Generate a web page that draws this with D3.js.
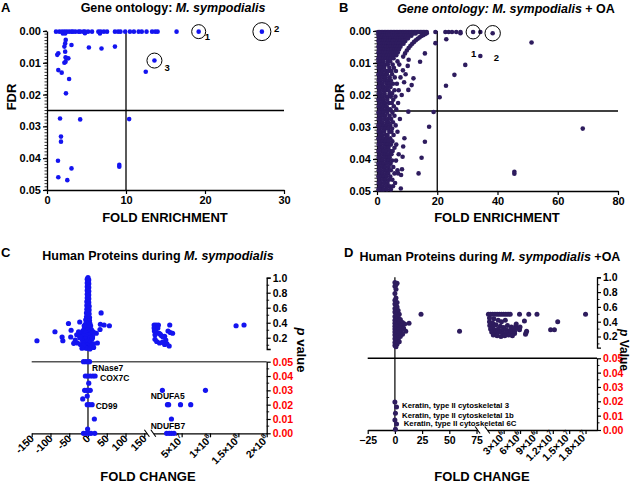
<!DOCTYPE html>
<html><head><meta charset="utf-8">
<script src="https://cdn.jsdelivr.net/npm/d3@7"></script>
<style>
body{margin:0;background:#fff;}
svg text{font-family:"Liberation Sans",Arial,sans-serif;font-weight:bold;}
</style></head><body>
<svg id="c" width="634" height="483"></svg>
<script>
// ---------------- DATA ----------------
// Panel A : [fold enrichment, FDR]
const aPoints = [
 [1.14,0.0002],[1.56,0.0002],[1.9,0.0002],[2.2,0.0002],[2.5,0.0002],[2.8,0.0002],[3.1,0.0002],[3.3,0.0002],[3.6,0.0002],[4.0,0.0002],
 [4.2,0.0002],[4.6,0.0002],[4.8,0.0002],[5.2,0.0002],[5.7,0.0002],[6.5,0.0002],[6.8,0.0002],[7.2,0.0002],[7.6,0.0002],[8.6,0.0002],
 [9.0,0.0002],[9.3,0.0002],[9.9,0.0002],[10.5,0.0002],[11.0,0.0002],[11.6,0.0002],[12.0,0.0002],[12.6,0.0002],[13.3,0.0002],[13.7,0.0002],
 [14.0,0.0002],[16.4,0.0002],[19.2,0.0002],[27.2,0.0002],
 [2.0,0.0008],[2.3,0.0008],[4.8,0.0007],[6.7,0.0008],
 [2.37,0.0028],[2.3,0.0039],[2.2,0.0049],[3.1,0.0044],[1.43,0.007],[1.3,0.0075],[2.3,0.0065],[2.35,0.0083],[2.45,0.0086],
 [2.2,0.010],[2.35,0.0097],[2.7,0.0086],[1.43,0.0123],[1.86,0.0131],[2.8,0.0151],[2.4,0.0196],[5.3,0.0052],[6.9,0.0055],
 [8.6,0.0049],[12.5,0.0128],[13.6,0.0093],
 [1.65,0.0275],[4.2,0.0278],[10.4,0.0277],[1.77,0.0332],[1.77,0.0348],[1.39,0.0408],[9.15,0.0421],[9.15,0.0427],
 [3.1,0.0432],[1.43,0.046],[2.57,0.0469]
];
const aCircled = [[19.2,0.0002,7,"1",6,5],[27.2,0.0002,9,"2",12,-3],[13.6,0.0093,7.5,"3",10,7]];

// Panel B : [fold enrichment, FDR]
const bRow0 = [0.4,0.9,1.4,1.9,2.4,2.9,3.4,3.9,4.4,4.9,5.4,5.9,6.4,6.9,7.4,7.9,8.4,8.9,9.4,9.9,10.4,10.9,11.4,11.9,12.4,12.9,13.4,13.9,14.4,14.9,15.4,15.9,16.5,19.4,22.7,23.8,24.9,26.3,27.7,34.3];
const bWedgeRows = [
 [0.0008,[0.6,1.3,2.1,2.8,3.5,4.3,5.0,5.8,6.5,7.3,8.0,8.8,9.5,10.3,11.1,12.0,12.8]],
 [0.0015,[0.5,1.2,2.0,2.7,3.5,4.2,5.1,5.8,6.6,7.4,8.1,9.0,9.8,10.6,11.4]],
 [0.0023,[0.7,1.5,2.3,3.0,3.9,4.6,5.4,6.2,7.0,7.8,8.6,9.5,10.3]],
 [0.0031,[0.5,1.3,2.1,2.9,3.7,4.5,5.3,6.1,6.9,7.7,8.6,9.4]],
 [0.0040,[0.8,1.6,2.4,3.2,4.0,4.8,5.6,6.4,7.2,8.1,8.8]],
 [0.0049,[0.5,1.3,2.2,3.0,3.8,4.6,5.5,6.2,7.0,7.8]],
 [0.0058,[0.7,1.5,2.4,3.2,4.0,4.9,5.7,6.5,7.3]],
 [0.0067,[0.5,1.3,2.1,2.9,3.8,4.6,5.4,6.1,6.9]],
 [0.0076,[0.8,1.6,2.4,3.3,4.1,4.9,5.6,6.4]],
 [0.0085,[0.5,1.3,2.2,3.0,3.8,4.7,5.5]]
];
const bBlockRows = [
 [0.0095,[0.5,1.3,2.1,3.5,4.4,6.8]],[0.0105,[0.8,1.9,2.8,3.6,5.2,7.4]],[0.0115,[0.6,1.4,2.4,4.1,5.6]],
 [0.0125,[0.9,1.8,3.0,3.9,4.8,6.3]],[0.0135,[0.5,1.5,2.4,3.3,5.0]],[0.0145,[0.8,2.0,2.9,4.2,5.9,7.8]],
 [0.0155,[0.6,1.3,2.5,3.6,4.6]],[0.0165,[0.9,1.8,3.1,4.0,5.3,6.6]],[0.0175,[0.5,1.5,2.3,3.4,4.5]],
 [0.0185,[0.8,2.0,2.8,3.8,5.8,7.2]],[0.0195,[0.6,1.3,2.5,4.2,5.0]],[0.0205,[0.9,1.8,3.0,3.7,4.6,6.1]],
 [0.0215,[0.5,1.5,2.2,3.4,5.4]],[0.0225,[0.8,1.9,2.7,4.0,4.9,7.0]],[0.0235,[0.6,1.3,2.4,3.2,5.6]],
 [0.0245,[0.9,1.7,3.0,3.8,4.5,6.4]],[0.0255,[0.5,1.4,2.2,3.4,5.1]],[0.0265,[0.8,1.9,2.8,4.2,5.8]],
 [0.0275,[0.6,1.3,2.5,3.6,4.7,7.6]],[0.0285,[0.9,1.8,3.1,3.9,5.3]],[0.0295,[0.5,1.5,2.3,3.3,4.4,6.2]],
 [0.0305,[0.8,2.0,2.8,3.7,5.0]],[0.0315,[0.6,1.3,2.4,4.1,4.8,6.8]],[0.0325,[0.9,1.7,3.0,3.5,5.5]],
 [0.0335,[0.5,1.4,2.2,3.3,4.4]],[0.0345,[0.8,1.9,2.7,3.9,5.1]],[0.0355,[0.6,1.3,2.5,3.4,4.6,6.4]],
 [0.0365,[0.9,1.8,3.0,3.8,5.8]],[0.0375,[0.5,1.5,2.3,3.2,4.3,5.2]],[0.0385,[0.8,2.0,2.8,3.7,4.8,7.2]],
 [0.0395,[0.6,1.3,2.4,3.5,4.2]],[0.0405,[0.9,1.7,3.0,3.8,5.0,6.3]],[0.0415,[0.5,1.4,2.2,3.3,4.5]],
 [0.0425,[0.8,1.9,2.7,3.9,5.4]],[0.0435,[0.6,1.3,2.5,3.4,4.6,6.8]],[0.0445,[0.9,1.8,3.0,3.7,5.8,7.0]],
 [0.0455,[0.5,1.5,2.3,3.2,4.4]],[0.0465,[0.8,2.0,2.8,4.0,5.1]],[0.0475,[0.6,1.3,2.4,3.5,6.0]],
 [0.0485,[0.9,1.7,3.0,4.2,5.3]],[0.0495,[0.5,1.4,2.2,3.3,4.6]]
];
const bArc = [[8.7,0.0080],[9.3,0.0070],[9.9,0.0061],[10.5,0.0053],[11.1,0.0046],[11.7,0.0040],[12.3,0.0034],[12.9,0.0029],
 [13.5,0.0024],[14.1,0.0020],[14.7,0.0016],[15.3,0.0013],[15.9,0.0010],[16.5,0.0007]];
const bSparse = [[15.9,0.007],[14.3,0.0096],[12.1,0.0148],[11.5,0.0169],[10.4,0.0184],[10.5,0.009],[10.2,0.0109],[8.6,0.0123],
 [9.5,0.0135],[9.0,0.016],[8.2,0.020],[10.4,0.0252],[9.1,0.0335],[8.7,0.0361],[8.5,0.0393],[8.3,0.0432],[8.0,0.045],[7.9,0.0492],
 [19.4,0.0038],[23.0,0.0026],[27.7,0.0007],[34.3,0.0078],[29.3,0.0106],[25.7,0.0137],[22.9,0.0171],[20.8,0.0207],[18.8,0.0253],
 [17.3,0.0299],[15.9,0.0346],[14.8,0.0396],[13.8,0.0445],[51.3,0.0036],[68.3,0.0305],[45.6,0.044],[45.6,0.0446],
 [31.9,0.0003],[38.4,0.0007]];
const bCircled = [[31.9,0.0003,7,"1",-2,22],[38.4,0.0007,7.7,"2",1,25]];

// Panel C : [fold change, p value]
const cUpperLeft = [
 [0,1.0],[-2,0.98],[2,0.97],[0,0.95],[-2,0.93],[2,0.92],[0,0.9],[-2,0.88],[2,0.87],[0,0.85],[-2,0.83],[2,0.82],[0,0.8],
 [-2,0.78],[2,0.77],[0,0.75],[-2,0.73],[2,0.72],[0,0.7],[-3,0.68],[2,0.67],[0,0.65],[-3,0.63],[3,0.62],[0,0.6],[-3,0.58],
 [3,0.57],[0,0.55],[-4,0.53],[3,0.52],[0,0.5],[-4,0.48],[4,0.47],[-1,0.45],[-6,0.44],[4,0.43],[1,0.42],[-5,0.4],[5,0.39],
 [-1,0.38],[-8,0.37],[7,0.36],[0,0.35],[-5,0.34],[4,0.33],[-10,0.32],[9,0.31],[-2,0.3],[-14,0.29],[3,0.28],[-7,0.27],[8,0.26],
 [-18,0.25],[0,0.24],[-11,0.23],[12,0.22],[-4,0.21],[5,0.2],[-22,0.2],[-8,0.19],[10,0.18],[-15,0.17],[1,0.16],[-5,0.15],
 [6,0.14],[-12,0.13],[15,0.12],[-20,0.11],[-2,0.1],[4,0.09],[-9,0.08],[9,0.07],[0,0.06],[-5,0.06],[5,0.05],
 [-136,0.16],[-88,0.28],[-69,0.21],[-67,0.16],[-52,0.39],[-45,0.30],[-46,0.21],[-22,0.41],[-34,0.17],[-20,0.21],[-12,0.10],
 [-16,0.06],[-25,0.28],[-30,0.24],[-38,0.125],[-28,0.13],[-10,0.36],
 [35,0.53],[33,0.38],[43,0.37],[57,0.36],[32,0.31],[22,0.26],[25,0.13],[14,0.28],[12,0.20],[10,0.10],[15,0.07]
];
const cUpperRight = [[1.5e6,0.37],[5e6,0.37],[9e6,0.37],[1.5e6,0.33],[8e6,0.33],[2e6,0.29],[5e6,0.28],[1e7,0.26],[3e6,0.24],
 [1.4e7,0.23],[2e7,0.22],[2.9e7,0.37],[2.6e7,0.29],[3.0e7,0.27],[3.4e7,0.26],[1.2e7,0.25],[1.7e7,0.21],[2.2e7,0.17],[3e6,0.18],
 [6e6,0.15],[1.1e7,0.13],[1.6e7,0.14],[2.0e7,0.11],[2.4e7,0.12],[2.8e7,0.09],[1.46e8,0.36],[1.6e8,0.37]];
const cLowerLeft = [[-12,0.05],[-6,0.05],[0,0.05],[4,0.05],[-7,0.04],[-1,0.04],[6,0.04],[13,0.04],[19,0.04],[2,0.035],
 [-9,0.03],[-4,0.03],[1,0.03],[6,0.03],[-2,0.026],[-14,0.024],[-2,0.02],[4,0.02],[11,0.02],[17,0.01],[-1,0.003],
 [-12,0],[-5,0],[2,0],[8,0],[18,0]];
const cLowerRight = [[1.6e7,0.03],[9.2e7,0.03],[2.5e7,0.02],[2.7e7,0.02],[4.8e7,0.02],[6.6e7,0.02],[3.2e7,0.01],
 [2.35e7,0],[2.8e7,0],[3.2e7,0],[3.65e7,0]];
const cLabels = [["RNase7",92,370.7],["COX7C",100,380.7],["CD99",95.7,409],["NDUFA5",150.7,399.3],["NDUFB7",150.7,429]];
const cLeftTicks = [-150,-100,-50,0,50,100,150];
const cRightTicks = [5e7,1e8,1.5e8,2e8];
const cRightTickLabels = [["5×10","7"],["1×10","8"],["1.5×10","8"],["2×10","8"]];

// Panel D : [fold change, p value]
const dUpperLeft = [[0,0.93],[2,0.92],[1,0.9],[0,0.88],[1,0.84],[0,0.78],[1,0.72],[0,0.69],[2,0.66],[0,0.64],[1,0.62],[2,0.6],
 [0,0.58],[1,0.56],[3,0.55],[0,0.53],[2,0.51],[4,0.5],[1,0.49],[0,0.47],[3,0.46],[1,0.44],[5,0.43],[0,0.42],[2,0.41],[4,0.4],
 [7,0.39],[0,0.38],[3,0.37],[9,0.37],[13,0.38],[1,0.36],[6,0.35],[0,0.34],[2,0.33],[5,0.32],[8,0.31],[0,0.3],[3,0.29],[6,0.28],
 [1,0.27],[10,0.27],[0,0.26],[4,0.25],[2,0.24],[7,0.23],[0,0.22],[3,0.21],[5,0.2],[1,0.19],[0,0.17],[3,0.16],[1,0.14],[4,0.13],
 [0,0.12],[2,0.1],[0,0.08],[1,0.06],[24,0.5],[59.4,0.27]];
const dUpperRight = [[2e5,0.5],[6e5,0.5],[1e6,0.5],[1.4e6,0.5],[1.8e6,0.5],[2.2e6,0.5],[2.6e6,0.5],[3e6,0.5],[3.4e6,0.5],
 [3.8e6,0.5],[4.2e6,0.5],[5.9e6,0.5],[7.6e6,0.5],[9.1e6,0.5],[1.8e7,0.5],
 [4e5,0.45],[1.2e6,0.44],[4e5,0.4],[1e6,0.38],[2e6,0.42],[3.3e6,0.42],[2.6e6,0.4],[4.5e5,0.35],[1e6,0.33],[1.6e6,0.36],
 [2.4e6,0.34],[3e6,0.32],[3.7e6,0.35],[4.4e6,0.33],[5.2e6,0.34],[6e5,0.3],[1.3e6,0.29],[2e6,0.3],[2.7e6,0.28],[3.4e6,0.29],
 [4.1e6,0.28],[4.8e6,0.3],[5.6e6,0.31],[8e5,0.26],[1.5e6,0.25],[2.2e6,0.26],[2.9e6,0.24],[3.6e6,0.25],[4.3e6,0.26],[5e6,0.24],
 [1.1e6,0.22],[1.8e6,0.21],[2.5e6,0.2],[3.2e6,0.21],[3.9e6,0.22],[4.6e6,0.21],[6.8e6,0.41],[7.2e6,0.27],[7.1e6,0.25],[7e6,0.23],
 [1.16e7,0.29],[1.23e7,0.29],[1.29e7,0.4],[5.3e6,0.37],[6e6,0.33],[5.9e6,0.29],[5e6,0.27]];
const dLowerLeft = [[0,0.0195],[1.5,0.016],[0.5,0.0116],[0,0.007],[1.5,0.0042],[0.5,0.0005]];
const dLabels = [["Keratin, type II cytoskeletal 3",402,408.3],["Keratin, type II cytoskeletal 1b",402,418.3],["Keratin, type II cytoskeletal 6C",403.7,426]];
const dLeftTicks = [-25,0,25,50,75];
const dRightTicks = [3e6,6e6,9e6,1.2e7,1.5e7,1.8e7];
const dRightTickLabels = [["3×10","6"],["6×10","6"],["9×10","6"],["1.2×10","7"],["1.5×10","7"],["1.8×10","7"]];

const fdrTicks = [0,0.01,0.02,0.03,0.04,0.05];
const pUpperTicks = [0.2,0.4,0.6,0.8,1.0];
const pLowerTicks = [0,0.01,0.02,0.03,0.04,0.05];

// ---------------- DRAW ----------------
const BLUE = "#1414f0", PURP = "#2e1c5e";
const svg = d3.select("#c");

function style(g, fs){
  g.selectAll("path.domain").attr("stroke","#000").attr("stroke-width",1.3);
  g.selectAll(".tick line").attr("stroke","#000").attr("stroke-width",1.2);
  g.selectAll("text").attr("font-size",fs).attr("font-weight","bold").attr("fill","#000")
    .attr("font-family","'Liberation Sans',Arial,sans-serif");
}
function dots(pts, xs, ys, r, col){
  svg.append("g").selectAll("circle").data(pts).join("circle")
    .attr("cx",d=>xs(d[0])).attr("cy",d=>ys(d[1])).attr("r",r).attr("fill",col);
}
function line(x1,y1,x2,y2,col,w){
  svg.append("line").attr("x1",x1).attr("y1",y1).attr("x2",x2).attr("y2",y2).attr("stroke",col||"#000").attr("stroke-width",w||1.3);
}
function text(t,x,y,fs,opts){
  const e = svg.append("text").attr("x",x).attr("y",y).attr("font-size",fs).text(t);
  if(opts&&opts.anchor) e.attr("text-anchor",opts.anchor);
  return e;
}
function title(parts,x,y){
  const t = svg.append("text").attr("x",x).attr("y",y).attr("font-size",12.5).attr("text-anchor","middle");
  parts.forEach(p=>t.append("tspan").attr("font-style",p[1]?"italic":"normal").text(p[0]));
}

// ---- GO panels
function goPanel(xDom, xRange, yRange, pts, col, xTicks, vLineX, circled){
  const x = d3.scaleLinear().domain(xDom).range(xRange);
  const y = d3.scaleLinear().domain([0,0.05]).range(yRange);
  const mg = svg.append("g");
  d3.range(0,51).forEach(i=>{ mg.append("line").attr("x1",xRange[0]-2.5).attr("x2",xRange[0]).attr("y1",y(i/1000)).attr("y2",y(i/1000)).attr("stroke","#000").attr("stroke-width",0.8); });
  const gy = svg.append("g").attr("transform",`translate(${xRange[0]},0)`)
    .call(d3.axisLeft(y).tickValues(fdrTicks).tickFormat(d3.format(".2f")).tickSize(4).tickSizeOuter(0).tickPadding(2));
  style(gy,11);
  const gx = svg.append("g").attr("transform",`translate(0,${yRange[1]})`)
    .call(d3.axisBottom(x).tickValues(xTicks).tickSize(4).tickSizeOuter(0).tickPadding(2));
  style(gx,11);
  line(x(vLineX), y(0), x(vLineX), y(0.05));
  line(x(xDom[0]), y(0.025), x(xDom[1]), y(0.025));
  dots(pts, x, y, 2.3, col);
  circled.forEach(c=>{
    svg.append("circle").attr("cx",x(c[0])).attr("cy",y(c[1])).attr("r",c[2]).attr("fill","none").attr("stroke","#000").attr("stroke-width",1);
    text(c[3], x(c[0])+c[4], y(c[1])+c[5]+3, 9.5).attr("font-weight","normal");
  });
  return {x,y};
}

// Panel A
goPanel([0,30],[47,284],[31,190],aPoints,BLUE,[0,10,20,30],10,aCircled);
text("A",1,12,13);
title([["Gene ontology: ",false],["M. sympodialis",true]],173,12);
text("FOLD ENRICHMENT",165,222,13,{anchor:"middle"});
text("FDR",0,0,13,{anchor:"middle"}).attr("transform","translate(16,97) rotate(-90)");

// Panel B
const bPts = [];
bRow0.forEach(v=>bPts.push([v,0.0003]));
bWedgeRows.forEach(r=>r[1].forEach(v=>bPts.push([v,r[0]])));
bBlockRows.forEach(r=>r[1].forEach(v=>bPts.push([v,r[0]])));
bArc.forEach(p=>bPts.push(p));
bSparse.forEach(p=>bPts.push(p));
goPanel([0,80],[377,618],[31,191],bPts,PURP,[0,20,40,60,80],20,bCircled);
text("B",339,12,13);
title([["Gene ontology: M. sympodialis",true],[" + OA",false]],506,12.7);
text("FOLD ENRICHMENT",497,222,13,{anchor:"middle"});
text("FDR",0,0,13,{anchor:"middle"}).attr("transform","translate(344,97) rotate(-90)");

// ---- protein panels
function rotLabels(xs, ticks, labels, y0){
  ticks.forEach((t,i)=>{
    const lab = labels[i];
    const e = svg.append("text").attr("transform",`translate(${xs(t)+3},${y0+6}) rotate(-45)`)
      .attr("text-anchor","end").attr("font-size",10.5);
    if(Array.isArray(lab)){
      e.append("tspan").text(lab[0]);
      e.append("tspan").attr("font-size",7).attr("dy",-4.5).text(lab[1]);
    } else e.text(lab);
  });
}
function breakMark(x,y){ line(x-2.5,y-3.5,x+2.5,y+3.5,"#000",1.1); }

function protPanel(cfg){
  const {xL,xR,yU,yL,axisX,col} = cfg;
  line(cfg.hLineX0, yL(0.05), axisX, yL(0.05), cfg.hCol, 1.5);
  line(xL(0), cfg.vTop, xL(0), yL(0), "#000", 1.2);
  const gu = svg.append("g").attr("transform",`translate(${axisX},0)`)
    .call(d3.axisRight(yU).tickValues(pUpperTicks).tickFormat(d3.format(".1f")).tickSize(4).tickSizeOuter(4).tickPadding(2));
  style(gu,10.5);
  [0.1,0.3,0.5,0.7,0.9].forEach(v=>line(axisX,yU(v),axisX+2.5,yU(v),"#000",0.9));
  const gl = svg.append("g").attr("transform",`translate(${axisX},0)`)
    .call(d3.axisRight(yL).tickValues(pLowerTicks).tickFormat(d3.format(".2f")).tickSize(4).tickSizeOuter(0).tickPadding(2));
  style(gl,10.5);
  gl.selectAll("text").attr("fill","#ff0000");
  [0.005,0.015,0.025,0.035,0.045].forEach(v=>line(axisX,yL(v),axisX+2.5,yL(v),"#000",0.9));
  const y0 = yL(0);
  const gxl = svg.append("g").attr("transform",`translate(0,${y0})`)
    .call(d3.axisBottom(xL).tickValues(cfg.leftTicks).tickSize(4).tickSizeOuter(0).tickPadding(3).tickFormat(cfg.rotLeft?"":d3.format("d")));
  style(gxl,10.5);
  const gxr = svg.append("g").attr("transform",`translate(0,${y0})`)
    .call(d3.axisBottom(xR).tickValues(cfg.rightTicks).tickSize(4).tickSizeOuter(0).tickFormat(""));
  style(gxr,10);
  if(cfg.rotLeft) rotLabels(xL, cfg.leftTicks, cfg.leftTicks.map(String), y0);
  rotLabels(xR, cfg.rightTicks, cfg.rightTickLabels, y0);
  breakMark(xL.range()[1], y0);
  breakMark(xR.range()[0], y0);
  dots(cfg.upperLeft, xL, yU, cfg.r, col);
  dots(cfg.upperRight, xR, yU, cfg.r, col);
  dots(cfg.lowerLeft, xL, yL, cfg.r, col);
  dots(cfg.lowerRight, xR, yL, cfg.r, col);
  cfg.labels.forEach(l=>text(l[0],l[1],l[2],cfg.labFs));
}

// Panel C
const cxL = d3.scaleLinear().domain([-150,157]).range([31.7,146.9]);
const cxR = d3.scaleLinear().domain([0,2e8]).range([153.3,266.7]);
const cyU = d3.scaleLinear().domain([0.05,1]).range([349,277.7]);
const cyL = d3.scaleLinear().domain([0,0.05]).range([433.3,361.7]);
protPanel({xL:cxL,xR:cxR,yU:cyU,yL:cyL,axisX:266.7,col:BLUE,hLineX0:31.7,hCol:"#555",vTop:cyU(1),
  leftTicks:cLeftTicks,rightTicks:cRightTicks,rightTickLabels:cRightTickLabels,rotLeft:true,r:2.6,labFs:8.5,
  upperLeft:cUpperLeft,upperRight:cUpperRight,lowerLeft:cLowerLeft,lowerRight:cLowerRight,labels:cLabels});
text("C",1,257,13);
title([["Human Proteins during ",false],["M. sympodialis",true]],158,260);
text("FOLD CHANGE",148,481,13,{anchor:"middle"});
const pv1 = svg.append("text").attr("font-size",13).attr("text-anchor","middle").attr("transform","translate(297,350) rotate(90)");
pv1.append("tspan").attr("font-style","italic").text("p");
pv1.append("tspan").text(" value");

// Panel D
const dxL = d3.scaleLinear().domain([-25,76]).range([367.7,477.6]);
const dxR = d3.scaleLinear().domain([0,2.01e7]).range([487.3,597]);
const dyU = d3.scaleLinear().domain([0.05,1]).range([347.6,277.3]);
const dyL = d3.scaleLinear().domain([0,0.05]).range([430,358.3]);
protPanel({xL:dxL,xR:dxR,yU:dyU,yL:dyL,axisX:597,col:PURP,hLineX0:367.7,hCol:"#000",vTop:dyU(1),
  leftTicks:dLeftTicks,rightTicks:dRightTicks,rightTickLabels:dRightTickLabels,rotLeft:false,r:2.5,labFs:7.8,
  upperLeft:dUpperLeft,upperRight:dUpperRight,lowerLeft:dLowerLeft,lowerRight:[],labels:dLabels});
text("D",344,257,13);
title([["Human Proteins during ",false],["M. sympodialis",true],[" +OA",false]],490,260.7);
text("FOLD CHANGE",482,481,13,{anchor:"middle"});
const pv2 = svg.append("text").attr("font-size",12).attr("text-anchor","middle").attr("transform","translate(620,350) rotate(90)");
pv2.append("tspan").attr("font-style","italic").text("p");
pv2.append("tspan").text(" Value");
</script>
</body></html>
